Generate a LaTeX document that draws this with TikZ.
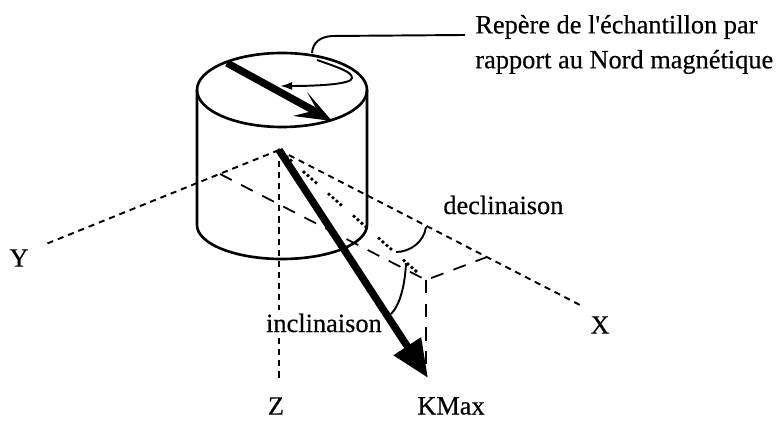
\documentclass[tikz,border=0pt]{standalone}
\usepackage{fontspec}
\setmainfont{Liberation Serif}[FakeBold=0.4]
\usetikzlibrary{arrows.meta, positioning, calc}

\tikzset{
  label text/.style={inner sep=0pt, font=\fontsize{15}{17}\selectfont},
  axis line/.style={line width=1.1pt, dash pattern=on 3.5pt off 2.8pt},
  long line/.style={line width=1pt, dash pattern=on 7.5pt off 6pt},
  dot line/.style={line width=2.2pt, line cap=round, dash pattern=on 0pt off 3pt on 0pt off 3pt on 0pt off 3pt on 0pt off 10pt},
  body line/.style={line width=1.5pt},
  thin curve/.style={line width=1.1pt},
  big arrow/.style={line width=4.2pt, -{Triangle[length=7.6mm, width=6.2mm]}},
  mark stem/.style={line width=4.2pt},
}

\begin{document}
\begin{tikzpicture}[x=0.02cm, y=-0.02cm]
  \useasboundingbox (0,0) rectangle (776,421);
  \coordinate (origin) at (279,150);
  \coordinate (yend) at (46,244);
  \coordinate (xend) at (580,305);
  \coordinate (zend) at (279,378);
  \coordinate (ymark) at (220,174);
  \coordinate (corner) at (426,280);
  \coordinate (xmark) at (487,257);
  \coordinate (kfoot) at (426,366);
  \coordinate (ktip) at (428,378);
  % Cylinder
  \draw[body line] (282,90) ellipse [x radius=85, y radius=37];
  \draw[body line] (197,90) -- (197,225) arc [start angle=180, end angle=0, x radius=85, y radius=34] -- (367,90);
  % Axes
  \draw[axis line] (origin) -- (yend);
  \draw[axis line] (origin) -- (xend);
  \draw[axis line] (origin) -- (zend);
  % Projection lines
  \draw[long line] (ymark) -- (corner) -- (xmark);
  \draw[long line] (corner) -- (kfoot);
  \draw[dot line] (origin) -- (corner);
  % Angle arcs
  \draw[thin curve] (426,227) .. controls (424,242) and (410,252) .. (396,252);
  \draw[thin curve] (406,263) .. controls (405,285) and (400,305) .. (391,314);
  % Sample mark on the top face
  \coordinate (markstart) at (227,63);
  \coordinate (markend) at (320,114);
  \coordinate (marktip) at (332,121);
  \coordinate (barbup) at (307,92);
  \coordinate (barbdown) at (293,116);
  \coordinate (barbin) at (317,110);
  \draw[mark stem] (markstart) -- (markend);
  \fill (barbup) -- (marktip) -- (barbdown) -- (barbin) -- cycle;
  \coordinate (turnstart) at (317,60);
  \coordinate (turnend) at (280,86);
  \draw[thin curve, -{Latex[length=2.4mm, width=1.6mm]}] (turnstart) .. controls (340,68) and (352,72) .. (352,78)
    .. controls (352,84) and (320,86) .. (turnend);
  % Labels
  \node[label text, anchor=west] (repere) at (475,27) {Repère de l\textquotesingle échantillon par};
  \node[label text, anchor=west] (rapport) at (475,62) {rapport au Nord magnétique};
  \node[label text, anchor=west] (decl) at (443,205) {declinaison};
  \node[label text, anchor=west, fill=white, inner xsep=1pt, inner ysep=2pt] (incl) at (264,323) {inclinaison};
  \node[label text] (ylabel) at (19,258) {Y};
  \node[label text] (xlabel) at (600,325) {X};
  \node[label text] (zlabel) at (276,406) {Z};
  \node[label text] (kmax) at (451,406) {KMax};
  % KMax arrow
  \draw[big arrow] (origin) -- (ktip);
  % Leader to the text
  \coordinate (leaderend) at (465,35);
  \draw[thin curve] (312,53) .. controls (313,42) and (320,37) .. (332,36) -- (leaderend);
\end{tikzpicture}
\end{document}
